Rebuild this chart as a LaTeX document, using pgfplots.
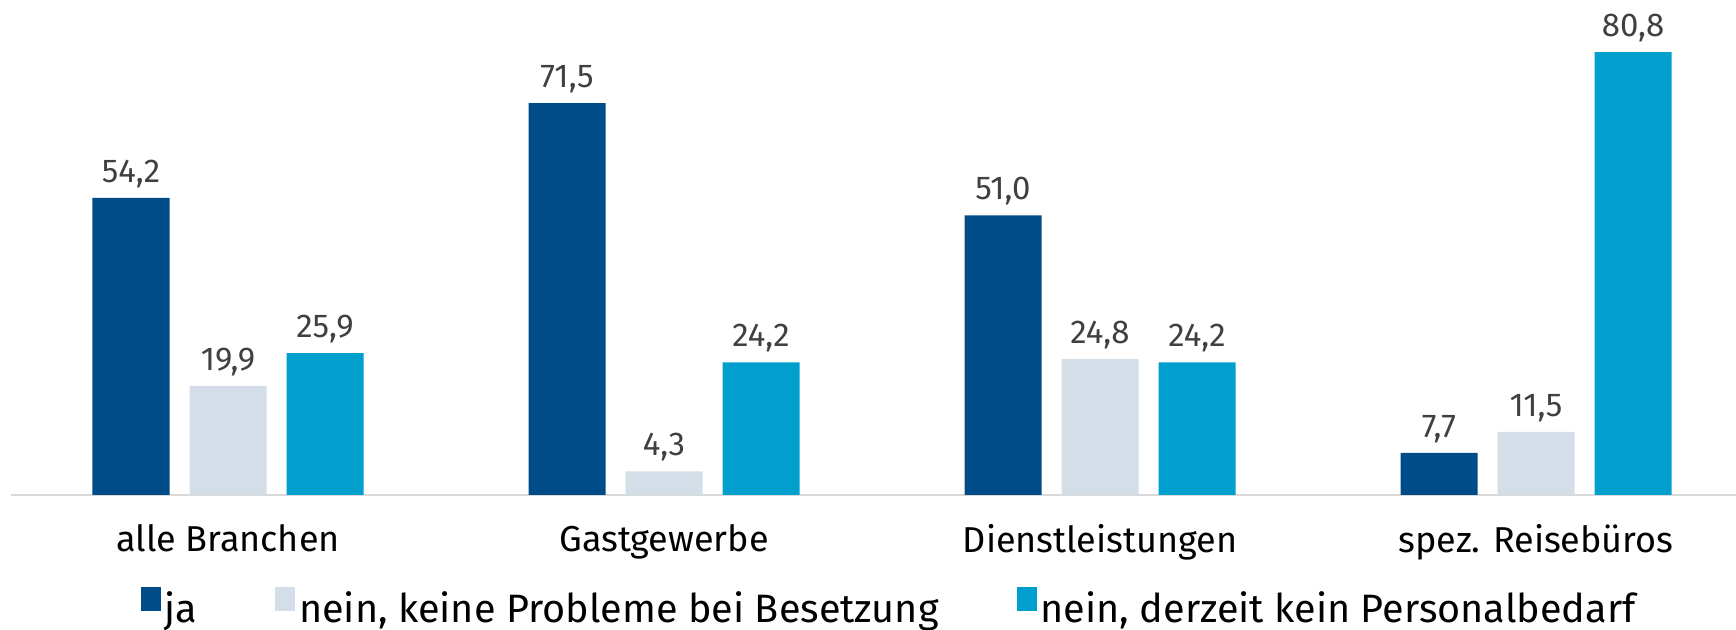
\documentclass[border=0pt]{standalone}
\usepackage{pgfplots}
\pgfplotsset{compat=1.18}
\usepackage{fontspec}
\setmainfont{Fira Sans}
\definecolor{c1}{HTML}{004C89}
\definecolor{c2}{HTML}{D3DEE9}
\definecolor{c3}{HTML}{009FCE}
\definecolor{lab}{HTML}{404040}
\definecolor{axc}{HTML}{D9D9D9}
\begin{document}
\begin{tikzpicture}
\useasboundingbox (0,0) rectangle (868bp,315bp);
\begin{axis}[
  at={(5.5bp,67.5bp)}, anchor=south west,
  scale only axis, width=862.5bp, height=246.7bp,
  xmin=-0.4977, xmax=3.4587, ymin=0, ymax=90,
  axis x line=bottom, axis y line=none,
  x axis line style={axc, line width=1bp, -},
  major tick length=0pt, xtick style={draw=none},
  ytick=\empty,
  ybar, bar width=38.5bp,
  xtick={0,1,2,3},
  xticklabels={alle Branchen, Gastgewerbe, Dienstleistungen, spez. Reisebüros},
  xticklabel style={font=\fontsize{18bp}{21bp}\selectfont, text=black, yshift=-11bp},
  nodes near coords={\pgfmathprintnumber[use comma,fixed,fixed zerofill,precision=1,assume math mode=true]{\pgfplotspointmeta}},
  every node near coord/.append style={font=\fontsize{16.5bp}{20bp}\selectfont, text=lab, yshift=1.5bp},
  legend columns=3,
  legend style={draw=none, fill=none, at={(0.5096,-0.229)}, anchor=center,
    font=\fontsize{19.8bp}{23bp}\selectfont,
    /tikz/every even column/.append style={column sep=37bp}},
]
\addplot[fill=c1, draw=none, bar shift=-48.5bp,
  legend image code/.code={\fill[c1] (0bp,-1bp) rectangle (10bp,11bp);}]
  coordinates {(0,54.2) (1,71.5) (2,51.0) (3,7.7)};
\addplot[fill=c2, draw=none, bar shift=0bp,
  legend image code/.code={\fill[c2] (0bp,-1bp) rectangle (10bp,11bp);}]
  coordinates {(0,19.9) (1,4.3) (2,24.8) (3,11.5)};
\addplot[fill=c3, draw=none, bar shift=48.5bp,
  legend image code/.code={\fill[c3] (0bp,-1bp) rectangle (10bp,11bp);}]
  coordinates {(0,25.9) (1,24.2) (2,24.2) (3,80.8)};
\legend{ja, {nein, keine Probleme bei Besetzung}, {nein, derzeit kein Personalbedarf}}
\end{axis}
\end{tikzpicture}
\end{document}
